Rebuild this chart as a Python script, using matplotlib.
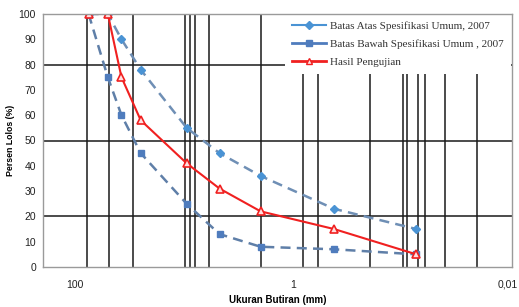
import matplotlib
matplotlib.use("Agg")
import matplotlib.pyplot as plt
import matplotlib.transforms as mtransforms
from matplotlib.lines import Line2D

# sieve sizes (mm)
sizes = [75, 50, 37.5, 25, 9.5, 4.75, 2.0, 0.425, 0.075]
upper = [100, 100, 90, 78, 55, 45, 36, 23, 15]
lower = [100, 75, 60, 45, 25, 13, 8, 7, 5]
test = [100, 100, 75, 58, 41, 31, 22, 15, 5]

# vertical reference lines (mm)
vlines = [77.7, 48.9, 29.6, 9.9, 8.9, 8.0, 5.96, 2.0, 0.81, 0.60, 0.20,
          0.10, 0.092, 0.072, 0.062, 0.041, 0.0207]
hlines = [20, 50, 80]

xtick_vals = [100, 1, 0.01]
xtick_labels = ["100", "1", "0,01"]
yticks = list(range(0, 101, 10))

labels = ["Batas Atas Spesifikasi Umum, 2007",
          "Batas Bawah Spesifikasi Umum , 2007",
          "Hasil Pengujian"]

plt.rcParams['font.family'] = ['Liberation Sans', 'DejaVu Sans']

fig = plt.figure(figsize=(5.19, 3.07), dpi=100)
ax = fig.add_axes([43/519, 1-267/307, (512-43)/519, (267-14)/307])

ax.set_xscale('log')
ax.set_xlim(196, 0.0102)
ax.set_ylim(0, 100)

for v in vlines:
    ax.axvline(v, color='#1a1a1a', lw=1.1, zorder=1)
for h in hlines:
    ax.axhline(h, color='#1a1a1a', lw=1.1, zorder=1)

c_up_line = '#6f8fb5'
c_up_mk = '#4a93d4'
c_lo_line = '#5f7fa8'
c_lo_mk = '#4f7cbd'
c_red = '#f02020'

ax.plot(sizes, upper, ls=(0, (4, 2.5)), color=c_up_line, lw=1.8, zorder=3)
ax.plot(sizes, upper, ls='none', marker='D', ms=4.5, color=c_up_mk, zorder=4)
ax.plot(sizes, lower, ls=(0, (4, 2.5)), color=c_lo_line, lw=1.8, zorder=3)
ax.plot(sizes, lower, ls='none', marker='s', ms=4.8, color=c_lo_mk, zorder=4)
ax.plot(sizes, test, ls='-', color=c_red, lw=1.5, marker='^', ms=6,
        mfc='#ffe0e0', mec=c_red, mew=1.2, zorder=5)

ax.set_xticks(xtick_vals)
ax.set_xticklabels(xtick_labels)
ax.xaxis.set_minor_locator(matplotlib.ticker.NullLocator())
ax.set_yticks(yticks)
ax.tick_params(axis='both', length=0, labelsize=7.5, colors='#222222')
ax.tick_params(axis='x', pad=9)
ax.tick_params(axis='y', pad=5)

# keep the last x label inside the figure
last = ax.get_xticklabels()[-1]
last.set_horizontalalignment('right')
last.set_transform(last.get_transform() +
                   mtransforms.ScaledTranslation(6/100, 0, fig.dpi_scale_trans))

for s in ax.spines.values():
    s.set_color('#9a9a9a')
    s.set_linewidth(1.0)
    s.set_zorder(11)

ax.set_xlabel("Ukuran Butiran (mm)", fontsize=7, fontweight='bold', labelpad=4)
ax.set_ylabel("Persen Lolos (%)", fontsize=6.3, fontweight='bold', labelpad=3)

handles = [
    Line2D([], [], color=c_up_mk, lw=1.5, marker='D', ms=4),
    Line2D([], [], color=c_lo_mk, lw=2, marker='s', ms=4),
    Line2D([], [], color=c_red, lw=2, marker='^', ms=5, mfc='#ffe0e0', mec=c_red),
]
leg = ax.legend(handles, labels, loc='upper left', bbox_to_anchor=(0.515, 1.0),
                prop={'family': 'Liberation Serif', 'size': 8},
                frameon=True, facecolor='white', edgecolor='none', framealpha=1,
                handlelength=3.1, handletextpad=0.3, labelspacing=0.72,
                borderpad=0.65, borderaxespad=0.0, fancybox=False)
for t in leg.get_texts():
    t.set_color('#333333')
leg.set_zorder(10)

fig.savefig("out.png", dpi=100)
